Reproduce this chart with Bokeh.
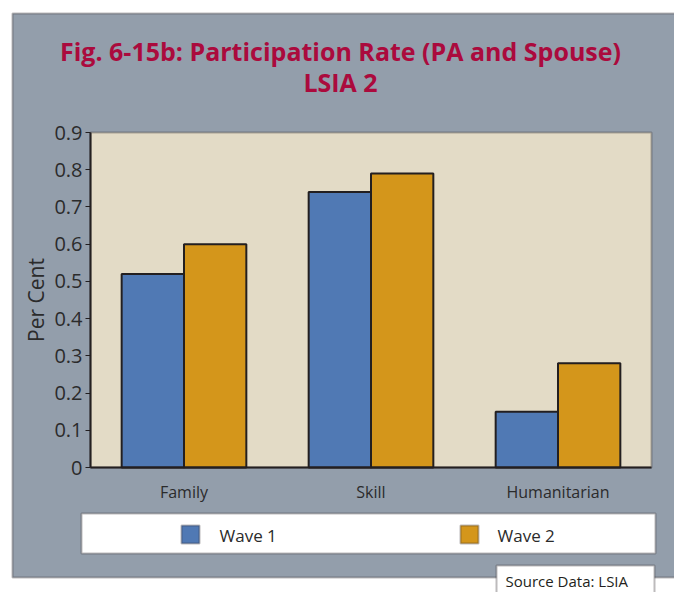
from bokeh.plotting import figure
from bokeh.models import (BoxAnnotation, Label, Range1d, FixedTicker, ColumnDataSource)
from bokeh.transform import dodge
from bokeh.embed import file_html
from bokeh.resources import INLINE

# ---------------- data ----------------
categories = ["Family", "Skill", "Humanitarian"]
series = ["Wave 1", "Wave 2"]
wave1 = [0.52, 0.74, 0.15]
wave2 = [0.60, 0.79, 0.28]
ytick_values = [0, 0.1, 0.2, 0.3, 0.4, 0.5, 0.6, 0.7, 0.8, 0.9]
ytick_labels = ["0", "0.1", "0.2", "0.3", "0.4", "0.5", "0.6", "0.7", "0.8", "0.9"]
title_lines = ["Fig. 6-15b: Participation Rate (PA and Spouse)", "LSIA 2"]
y_label = "Per Cent"
source_note = "Source Data: LSIA"

# ---------------- style ----------------
FONT = "Open Sans"
PANEL = "#939eab"
BEIGE = "#e3dbc6"
BLUE = "#5079b4"
GOLD = "#d4961b"
DARK = "#231f20"
TITLE_C = "#ab0a3d"
TEXT_C = "#2b2b2b"
colors = [BLUE, GOLD]

W, H = 674, 592
# plot-area position in canvas pixels
FL, FR, FT, FB = 90, 651, 132, 467
YMAX = 0.9
NC = len(categories)

def px2x(px):
    return (px - FL) / (FR - FL) * NC

def py2y(py):
    return (FB - py) / (FB - FT) * YMAX

cat_x = [i + 0.5 for i in range(NC)]
src = ColumnDataSource(dict(x=cat_x, w1=wave1, w2=wave2))

p = figure(width=W, height=H, title=None,
           x_range=Range1d(px2x(0), px2x(W)), y_range=Range1d(py2y(H), py2y(0)),
           output_backend="svg", toolbar_location=None, min_border=0)
p.border_fill_color = "white"
p.background_fill_color = "white"
p.outline_line_color = None
p.xgrid.visible = False
p.ygrid.visible = False

# outer grey panel
p.add_layout(BoxAnnotation(left=px2x(12), right=px2x(W + 40), top=py2y(13), bottom=py2y(577),
                           fill_color=PANEL, fill_alpha=1, line_color=DARK, line_width=2,
                           level="underlay"))
# plot area
p.add_layout(BoxAnnotation(left=0, right=NC, top=YMAX, bottom=0,
                           fill_color=BEIGE, fill_alpha=1, line_color=DARK, line_width=2,
                           level="underlay"))

bw = 1 / 3
p.vbar(x=dodge("x", -bw / 2), top="w1", width=bw, source=src,
       fill_color=colors[0], line_color=DARK, line_width=2)
p.vbar(x=dodge("x", bw / 2), top="w2", width=bw, source=src,
       fill_color=colors[1], line_color=DARK, line_width=2)

# axes, drawn on the plot-area edges
p.yaxis.fixed_location = 0
p.yaxis.bounds = (0, YMAX)
p.yaxis.ticker = FixedTicker(ticks=ytick_values)
p.yaxis.major_label_overrides = {v: l for v, l in zip(ytick_values, ytick_labels)}
p.yaxis.minor_tick_line_color = None
p.yaxis.major_tick_out = 5
p.yaxis.major_tick_in = 0
p.yaxis.major_tick_line_color = DARK
p.yaxis.major_tick_line_width = 1
p.yaxis.axis_line_color = DARK
p.yaxis.axis_line_width = 2
p.yaxis.major_label_text_font = FONT
p.yaxis.major_label_text_font_size = "20px"
p.yaxis.major_label_text_color = TEXT_C
p.yaxis.major_label_standoff = 3
p.yaxis.axis_label = y_label
p.yaxis.axis_label_text_font = FONT
p.yaxis.axis_label_text_font_size = "21px"
p.yaxis.axis_label_text_font_style = "normal"
p.yaxis.axis_label_text_color = TEXT_C
p.yaxis.axis_label_standoff = 1

p.xaxis.fixed_location = 0
p.xaxis.bounds = (0, NC)
p.xaxis.ticker = FixedTicker(ticks=cat_x)
p.xaxis.major_label_overrides = {v: c for v, c in zip(cat_x, categories)}
p.xaxis.major_tick_line_color = None
p.xaxis.minor_tick_line_color = None
p.xaxis.major_tick_out = 0
p.xaxis.major_tick_in = 0
p.xaxis.axis_line_color = DARK
p.xaxis.axis_line_width = 2
p.xaxis.major_label_text_font = FONT
p.xaxis.major_label_text_font_size = "16px"
p.xaxis.major_label_text_color = TEXT_C
p.xaxis.major_label_standoff = 13

# title (baseline positions corrected for how labels sit on their anchor)
for line, base in zip(title_lines, (50, 81)):
    p.add_layout(Label(x=px2x(340), y=py2y(base), text=line, text_font=FONT,
                       text_font_size="25px", text_font_style="bold", text_color=TITLE_C,
                       text_align="center", text_baseline="alphabetic"))

# legend
p.add_layout(BoxAnnotation(left=px2x(81), right=px2x(655), top=py2y(513), bottom=py2y(553),
                           fill_color="white", fill_alpha=1, line_color=DARK, line_width=2))
for sq_left, txt_left, name, col in [(181, 219, series[0], colors[0]),
                                     (460, 497, series[1], colors[1])]:
    p.add_layout(BoxAnnotation(left=px2x(sq_left), right=px2x(sq_left + 18),
                               top=py2y(525), bottom=py2y(543),
                               fill_color=col, fill_alpha=1, line_color=DARK, line_width=2))
    p.add_layout(Label(x=px2x(txt_left), y=py2y(535), text=name, text_font=FONT,
                       text_font_size="17px", text_color=TEXT_C,
                       text_align="left", text_baseline="alphabetic"))

# source note
p.add_layout(BoxAnnotation(left=px2x(496), right=px2x(654), top=py2y(565), bottom=py2y(H + 40),
                           fill_color="white", fill_alpha=1, line_color=DARK, line_width=2))
p.add_layout(Label(x=px2x(505), y=py2y(580), text=source_note, text_font=FONT,
                   text_font_size="15px", text_color=DARK,
                   text_align="left", text_baseline="alphabetic"))

open("out.html", "w").write(file_html(p, INLINE))
